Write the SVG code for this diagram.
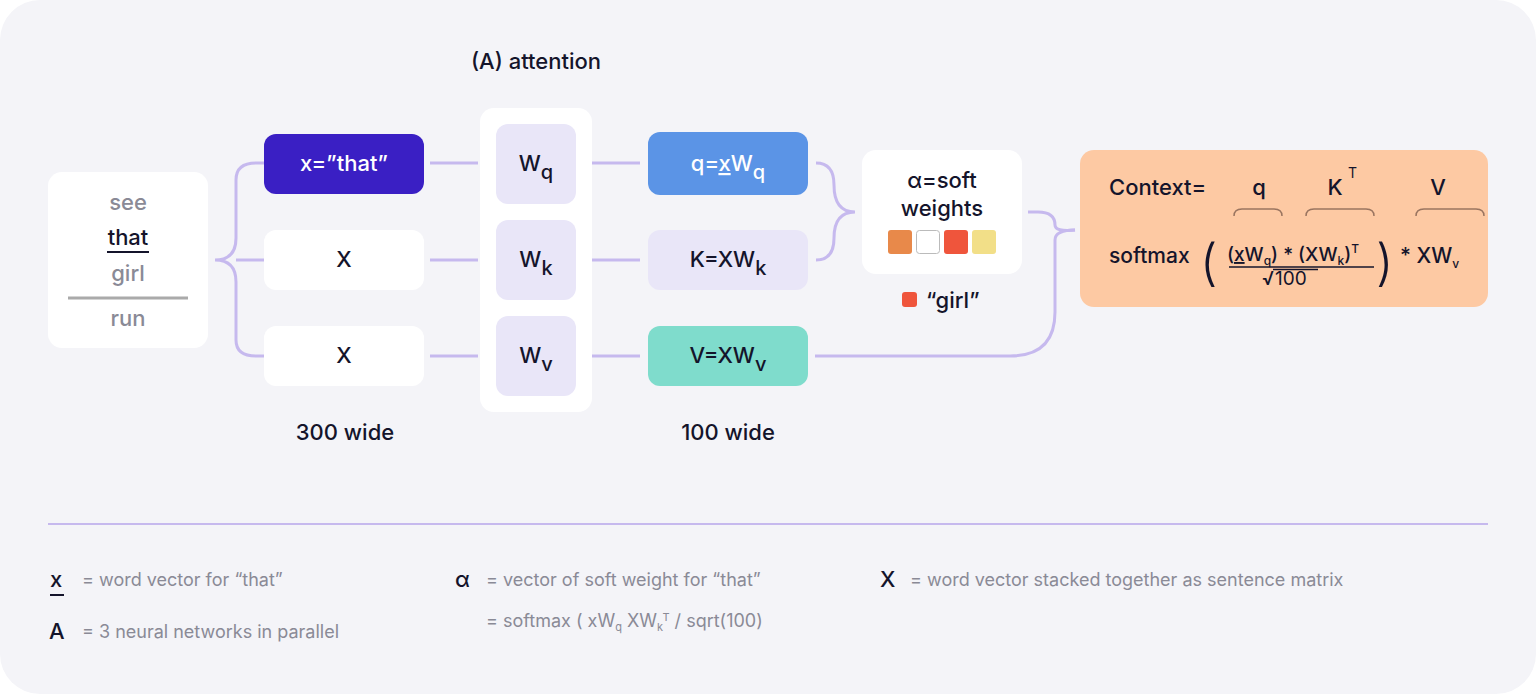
<svg xmlns="http://www.w3.org/2000/svg" width="1536" height="694" viewBox="0 0 1536 694">
<style>
text{font-family:Inter,"Liberation Sans",sans-serif;fill:#14142b}
.n{font-size:22px;text-anchor:middle;font-weight:500}
.g{fill:#8a8a96}
.lg{font-size:18px;fill:#8a8a96}
.c{fill:none;stroke:#c6b9ee;stroke-width:3}
.br{fill:none;stroke:#9a7560;stroke-width:1.5}
</style>
<rect x="0" y="0" width="1536" height="694" rx="40" fill="#f4f4f8"/>
<text x="536" y="69" class="n">(A) attention</text>
<g id="connectors">
<path class="c" d="M215 260 Q236 260 236 238 V180 Q236 163 256 163 H264 M215 260 Q236 260 236 282 V340 Q236 356 256 356 H264 M236 260 H264"/>
<path class="c" d="M430 163 H478 M430 260 H478 M430 356 H478"/>
<path class="c" d="M582 163 H640 M582 260 H640 M582 356 H640"/>
<path class="c" d="M816 163 Q834 163 834 185 Q834 212 855 212 M816 260 Q834 260 834 238 Q834 212 855 212"/>
<path class="c" d="M1028 212 H1038 Q1055 212 1055 225 Q1055 232 1075 230"/>
<path class="c" d="M815 356 H1010 Q1055 356 1055 312 V240 Q1055 230 1075 230"/>
</g>
<g id="sentence">
<rect x="48" y="172" width="160" height="176" rx="14" fill="#fff"/>
<text x="128" y="210" class="n g">see</text>
<text x="128" y="245" class="n">that</text>
<line x1="107" y1="252" x2="149" y2="252" stroke="#14142b" stroke-width="2"/>
<text x="128" y="281" class="n g">girl</text>
<line x1="68" y1="298" x2="188" y2="298" stroke="#aaa" stroke-width="3"/>
<text x="128" y="326" class="n g">run</text>
</g>
<g id="x1"><rect x="264" y="134" width="160" height="60" rx="12" fill="#3a1fc4"/><text x="344" y="171" class="n" style="fill:#fff">x=”that”</text></g>
<g id="x2"><rect x="264" y="230" width="160" height="60" rx="12" fill="#fff"/><text x="344" y="267" class="n">X</text></g>
<g id="x3"><rect x="264" y="326" width="160" height="60" rx="12" fill="#fff"/><text x="344" y="363" class="n">X</text></g>
<g id="wpanel">
<rect x="480" y="108" width="112" height="304" rx="14" fill="#fff"/>
<rect x="496" y="124" width="80" height="80" rx="12" fill="#e9e6f8"/>
<text x="536" y="171" class="n">W<tspan font-size="20" dy="8">q</tspan></text>
<rect x="496" y="220" width="80" height="80" rx="12" fill="#e9e6f8"/>
<text x="536" y="267" class="n">W<tspan font-size="20" dy="8">k</tspan></text>
<rect x="496" y="316" width="80" height="80" rx="12" fill="#e9e6f8"/>
<text x="536" y="363" class="n">W<tspan font-size="20" dy="8">v</tspan></text>
</g>
<g id="q"><rect x="648" y="132" width="160" height="63" rx="12" fill="#5b94e6"/><text x="728" y="171" class="n" style="fill:#fff">q=<tspan text-decoration="underline">x</tspan>W<tspan font-size="20" dy="8">q</tspan></text></g>
<g id="k"><rect x="648" y="230" width="160" height="60" rx="12" fill="#e9e6f8"/><text x="728" y="267" class="n">K=XW<tspan font-size="20" dy="8">k</tspan></text></g>
<g id="v"><rect x="648" y="326" width="160" height="60" rx="12" fill="#7fdccc"/><text x="728" y="363" class="n">V=XW<tspan font-size="20" dy="8">v</tspan></text></g>
<g id="alpha">
<rect x="862" y="150" width="160" height="124" rx="14" fill="#fff"/>
<text x="942" y="188" class="n">α=soft</text>
<text x="942" y="216" class="n">weights</text>
<rect x="888" y="230" width="24" height="24" rx="3" fill="#e8894a"/>
<rect x="916.5" y="230.5" width="23" height="23" rx="3" fill="#fff" stroke="#bbb"/>
<rect x="944" y="230" width="24" height="24" rx="3" fill="#ef553c"/>
<rect x="972" y="230" width="24" height="24" rx="3" fill="#f2df88"/>
<rect x="902" y="292" width="15" height="15" rx="3" fill="#ef553c"/>
<text x="926" y="308" style="font-size:22px;font-weight:500">“girl”</text>
</g>
<g id="context">
<rect x="1080" y="150" width="408" height="157" rx="14" fill="#fdc9a3"/>
<text x="1109" y="195" style="font-size:22px;font-weight:500">Context=</text>
<text x="1259" y="195" class="n">q</text>
<text x="1335" y="195" class="n">K</text><text x="1348" y="178" style="font-size:14px">T</text>
<text x="1438" y="195" class="n">V</text>
<path class="br" d="M1234 216 Q1234 209 1242 209 H1274 Q1282 209 1282 216"/>
<path class="br" d="M1306 216 Q1306 209 1314 209 H1366 Q1374 209 1374 216"/>
<path class="br" d="M1416 216 Q1416 209 1424 209 H1476 Q1484 209 1484 216"/>
<text x="1109" y="263" style="font-size:21px;font-weight:500">softmax</text>
<text x="1200" y="280" style="font-size:50px;font-weight:300">(</text>
<text x="1227" y="261" style="font-size:19px;font-weight:500">(<tspan text-decoration="underline">x</tspan>W<tspan font-size="12" dy="4">q</tspan><tspan dy="-4">) * (XW</tspan><tspan font-size="12" dy="4">k</tspan><tspan dy="-4">)</tspan><tspan font-size="12" dy="-8">T</tspan></text>
<line x1="1229" y1="267" x2="1374" y2="267" stroke="#14142b" stroke-width="1.5"/>
<text x="1262" y="285" style="font-size:19px;font-weight:500">√</text>
<line x1="1273" y1="269.5" x2="1318" y2="269.5" stroke="#14142b" stroke-width="1.5"/>
<text x="1275" y="285" style="font-size:19px">100</text>
<text x="1376" y="280" style="font-size:50px;font-weight:300">)</text>
<text x="1400" y="263" style="font-size:21px;font-weight:500">* XW<tspan font-size="12" dy="5">v</tspan></text>
</g>
<text x="345" y="440" class="n">300 wide</text>
<text x="728" y="440" class="n">100 wide</text>
<line x1="48" y1="524" x2="1488" y2="524" stroke="#c6b9ee" stroke-width="2"/>
<g id="legend">
<text x="50" y="587" style="font-size:22px;font-weight:500">x</text>
<line x1="50" y1="595" x2="64" y2="595" stroke="#14142b" stroke-width="2"/>
<text x="82" y="586" class="lg">=   word vector for “that”</text>
<text x="49" y="639" style="font-size:22px;font-weight:500">A</text>
<text x="82" y="638" class="lg">=   3 neural networks in parallel</text>
<text x="455" y="587" style="font-size:22px;font-weight:500">α</text>
<text x="486" y="586" class="lg">=   vector of soft weight for “that”</text>
<text x="486" y="627" class="lg">=   softmax ( xW<tspan font-size="11" dy="4">q</tspan><tspan dy="-4">  XW</tspan><tspan font-size="11" dy="4">k</tspan><tspan font-size="11" dy="-10">T</tspan><tspan dy="6"> / sqrt(100)</tspan></text>
<text x="880" y="587" style="font-size:22px;font-weight:500">X</text>
<text x="910" y="586" class="lg">=   word vector stacked together as sentence matrix</text>
</g>
</svg>
